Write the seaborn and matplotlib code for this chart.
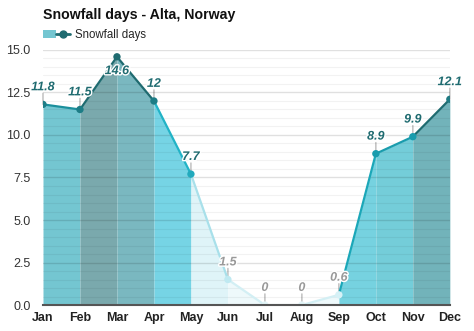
import matplotlib
matplotlib.use("Agg")
import matplotlib.pyplot as plt
import matplotlib.patheffects as pe
import seaborn as sns
import numpy as np
import pandas as pd
from matplotlib.lines import Line2D
from matplotlib.patches import Patch
from matplotlib.legend_handler import HandlerTuple

months = ["Jan", "Feb", "Mar", "Apr", "May", "Jun", "Jul", "Aug", "Sep", "Oct", "Nov", "Dec"]
snow_days = [11.8, 11.5, 14.6, 12, 7.7, 1.5, 0, 0, 0.6, 8.9, 9.9, 12.1]
labels = ["11.8", "11.5", "14.6", "12", "7.7", "1.5", "0", "0", "0.6", "8.9", "9.9", "12.1"]
yticks = [0.0, 2.5, 5.0, 7.5, 10.0, 12.5, 15.0]

fill_colors = ["#74c6d1", "#7aa9ad", "#7ab8c0", "#76d4e5", "#dff4f8", "#eef9fb",
               "#f7fcfd", "#eef9fb", "#76d2e0", "#74cdd9", "#72b3ba"]
line_colors = ["#1b8f9c", "#1f6b70", "#1f6b70", "#22b3c6", "#a8e0ea", "#d3eff4",
               "#e6f6f9", "#d3eff4", "#1ba7b8", "#1a9cad", "#1f6b70"]
marker_colors = ["#1d7d86", "#1d7d86", "#1f6b70", "#1d7d86", "#22aabd", "#bfe9f1",
                 "#e3f5f8", "#e3f5f8", "#d6f1f6", "#1a9cad", "#1a9cad", "#1f7a82"]
label_colors = ["#1f6b70"] * 5 + ["#999999"] * 4 + ["#1f6b70"] * 3

sns.set_theme(style="white")
plt.rcParams["font.family"] = ["Liberation Sans", "DejaVu Sans"]

fig = plt.figure(figsize=(4.74, 3.31), dpi=100)
ax = fig.add_axes([0.0907, 0.0785, 0.8583, 0.7705])

df = pd.DataFrame({"x": np.arange(len(months)), "y": snow_days})

for i in range(len(months) - 1):
    seg = df.iloc[i:i + 2]
    ax.fill_between(seg["x"], 0, seg["y"], color=fill_colors[i], linewidth=0, zorder=1)
    sns.lineplot(data=seg, x="x", y="y", ax=ax, color=line_colors[i], linewidth=1.6,
                 zorder=3, legend=False)

ax.scatter(df["x"], df["y"], s=28, c=marker_colors, zorder=4, linewidths=0)

ymax = max(snow_days)
for i, (xv, yv) in enumerate(zip(df["x"], df["y"])):
    below = yv == ymax
    if not below:
        ax.annotate("", xy=(xv, yv), xytext=(0, 8), textcoords="offset points",
                    arrowprops=dict(arrowstyle="-", color="#bbbbbb", lw=1,
                                    shrinkA=0, shrinkB=0), zorder=2)
    ax.annotate(labels[i], xy=(xv, yv), xytext=(0, -6 if below else 8),
                textcoords="offset points", ha="center",
                va="top" if below else "bottom", fontsize=9, fontweight="bold",
                fontstyle="italic", color=label_colors[i], zorder=5,
                path_effects=[pe.withStroke(linewidth=2, foreground="white")])

ax.set_xlim(0, len(months) - 1)
ax.set_ylim(0, 15)
ax.set_xticks(df["x"])
ax.set_xticklabels(months, fontsize=9, fontweight="bold", color="#222222")
ax.set_yticks(yticks)
ax.set_yticklabels([f"{v:.1f}" for v in yticks], fontsize=9, color="#333333")
ax.set_yticks(np.arange(0, 15.01, 0.5), minor=True)
ax.set_axisbelow(False)
ax.grid(axis="y", which="major", color="#000000", alpha=0.12, linewidth=1, zorder=1.5)
ax.grid(axis="y", which="minor", color="#000000", alpha=0.05, linewidth=0.8, zorder=1.5)
ax.tick_params(axis="both", which="both", length=0)
ax.tick_params(axis="y", pad=9)
ax.tick_params(axis="x", pad=5)
ax.set_xlabel("")
ax.set_ylabel("")
for s in ["top", "right", "left"]:
    ax.spines[s].set_visible(False)
ax.spines["bottom"].set_color("#555555")
ax.spines["bottom"].set_linewidth(1.5)
ax.spines["bottom"].set_zorder(6)

fig.text(0.091, 0.955, "Snowfall days - Alta, Norway", fontsize=10.2, fontweight="bold",
         color="#111111", va="center", ha="left")

handle = (Patch(facecolor="#74c6d1", edgecolor="none"),
          Line2D([0], [0], color="#1f6b70", lw=2, marker="o", markersize=5))
fig.legend([handle], ["Snowfall days"], loc="center left", bbox_to_anchor=(0.091, 0.893),
           frameon=False, fontsize=8.3, handler_map={tuple: HandlerTuple(ndivide=None, pad=0)},
           handlelength=2.3, handletextpad=0.5, borderaxespad=0, borderpad=0)

fig.savefig("out.png", dpi=100)
